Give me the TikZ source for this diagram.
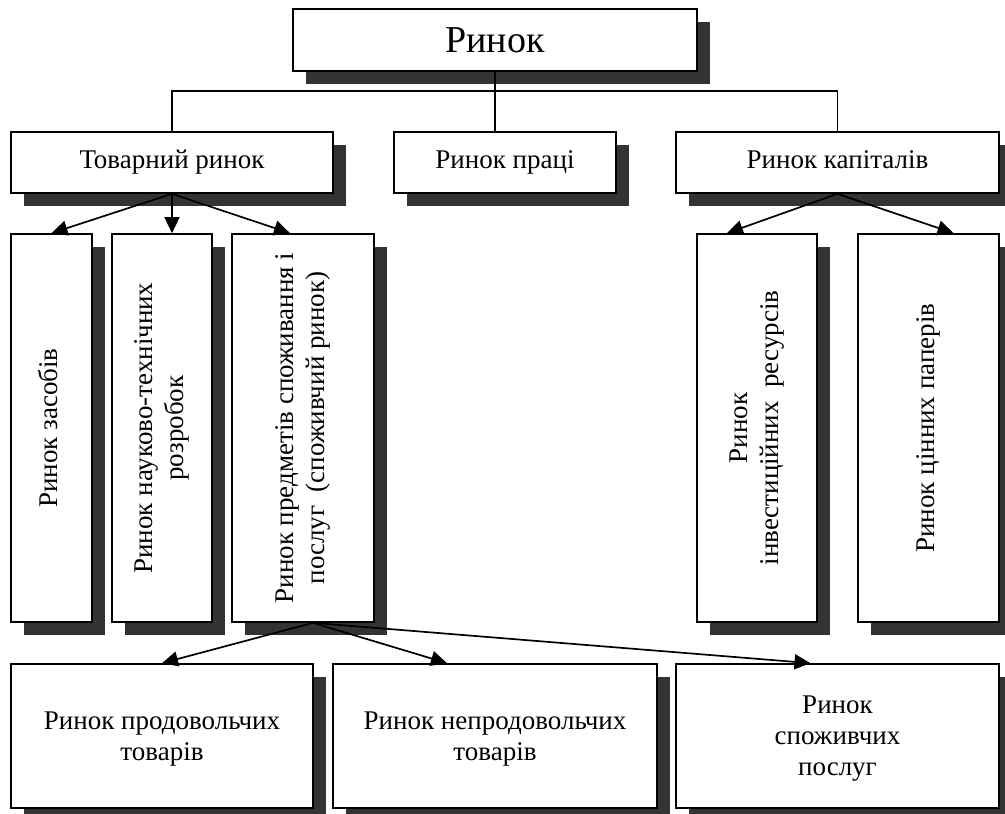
\documentclass[tikz,border=0pt]{standalone}
\usepackage{fontspec}
\setmainfont{Liberation Serif}
\usepackage{graphicx}
\usetikzlibrary{arrows.meta,shadows}
\definecolor{shadowgray}{HTML}{333333}
\newcommand\vlabel[1]{\rotatebox{90}{\begin{tabular}{@{}c@{}}#1\end{tabular}}}
\tikzset{
  box/.style={draw,line width=1.7pt,fill=white,inner sep=2pt,align=center,
    font=\fontsize{27}{31}\selectfont,
    drop shadow={shadow xshift=13pt,shadow yshift=-13pt,opacity=1,fill=shadowgray}},
  wide/.style={box,minimum width=#1,minimum height=61pt,text height=18pt,text depth=7pt},
  tall/.style={box,minimum width=#1,minimum height=388pt},
  low/.style={box,minimum width=#1,minimum height=144pt,text depth=0pt},
}
\begin{document}
\begin{tikzpicture}[x=1pt,y=-1pt]
  \useasboundingbox (0,0) rectangle (1005,814);
  \draw
    (495,40) node[box,minimum width=404pt,minimum height=62pt,
      font=\fontsize{38}{44}\selectfont] (top){Ринок}
    (172,162.5) node[wide=322pt] (tov){Товарний ринок}
    (505,162.5) node[wide=222pt] (praci){Ринок праці}
    (837.5,162.5) node[wide=323pt] (kap){Ринок капіталів}
    (51.5,428) node[tall=81pt] (zas){\vlabel{Ринок засобів}}
    (162,428) node[tall=100pt] (nauk){\vlabel{Ринок науково-технічних\\розробок}}
    (303,428) node[tall=142pt] (pred){\vlabel{Ринок предметів споживання і\\послуг\ \ (споживчий ринок)}}
    (757,428) node[tall=120pt] (inv){\vlabel{Ринок\\інвестиційних\ \ ресурсів}}
    (928.5,428) node[tall=141pt] (cin){\vlabel{Ринок цінних паперів}}
    (162,736) node[low=302pt] (prod){Ринок продовольчих\\товарів}
    (495,736) node[low=324pt] (neprod){Ринок непродовольчих\\товарів}
    (837.5,736) node[low=323pt] (posl){Ринок\\споживчих\\послуг};
  \coordinate (hub) at (495,91);
  \begin{scope}[line width=1.5pt]
    \draw (top.south) -- (top.south |- praci.north);
    \draw (tov.north) |- (hub) -| (kap.north);
  \end{scope}
  \begin{scope}[line width=1.7pt,-{Triangle[length=16pt,width=15pt]}]
    \draw (tov.south) to (zas.north);
    \draw (tov.south) to (tov.south |- nauk.north);
    \draw (tov.south) to ([xshift=-13pt]pred.north);
    \draw (kap.south) to ([xshift=-30pt]inv.north);
    \draw (kap.south) to ([xshift=25pt]cin.north);
    \draw ([xshift=10pt]pred.south) to (prod.north);
    \draw ([xshift=10pt]pred.south) to ([xshift=-48pt]neprod.north);
    \draw ([xshift=10pt]pred.south) to ([xshift=-27pt]posl.north);
  \end{scope}
\end{tikzpicture}
\end{document}
